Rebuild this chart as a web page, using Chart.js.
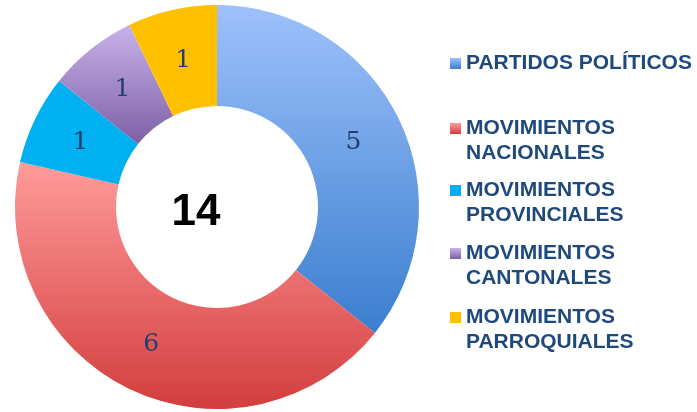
<!DOCTYPE html>
<html>
<head>
<meta charset="utf-8">
<script src="https://cdn.jsdelivr.net/npm/chart.js@4.4.0/dist/chart.umd.min.js"></script>
<style>
    html, body { margin: 0; padding: 0; background: #ffffff; }
    #wrap { position: relative; width: 697px; height: 412px; }
    #chart { position: absolute; left: 0; top: 0; }
    #legend {
        position: absolute; left: 450px; top: 0; width: 247px;
        font-family: "Liberation Sans", Arial, sans-serif; font-weight: bold;
        font-size: 21px; line-height: 25px; color: #1F497D;
    }
    .item { position: absolute; left: 0; display: flex; align-items: flex-start; }
    .box { width: 11px; height: 11px; margin-top: 9px; margin-right: 5px; flex: none; }
</style>
</head>
<body>
<div id="wrap">
    <canvas id="chart" width="697" height="412"></canvas>
    <div id="legend"></div>
</div>
<script>
// Data
const categories = ['PARTIDOS POLÍTICOS', 'MOVIMIENTOS NACIONALES', 'MOVIMIENTOS PROVINCIALES', 'MOVIMIENTOS CANTONALES', 'MOVIMIENTOS PARROQUIALES'];
const legendLines = [['PARTIDOS POLÍTICOS'], ['MOVIMIENTOS', 'NACIONALES'], ['MOVIMIENTOS', 'PROVINCIALES'], ['MOVIMIENTOS', 'CANTONALES'], ['MOVIMIENTOS', 'PARROQUIALES']];
const counts = [5, 6, 1, 1, 1];
const totalLabel = '14';

// Slice colors: [top, bottom] of the vertical gradient
const sliceColors = [
    ['#9DC1FB', '#3B7ECF'],
    ['#FF9B9B', '#D33D3D'],
    ['#00B0F0', '#00B0F0'],
    ['#C8B2EA', '#7D5FA6'],
    ['#FFC000', '#FFC000']
];

const cutoutPct = 50;

// Vertical extent of one doughnut slice, so each slice gets its own gradient
function sliceBounds(chart, index) {
    const area = chart.chartArea;
    const cx = (area.left + area.right) / 2;
    const cy = (area.top + area.bottom) / 2;
    const R = Math.min(area.right - area.left, area.bottom - area.top) / 2;
    const r = R * cutoutPct / 100;
    const total = counts.reduce((a, b) => a + b, 0);
    let before = 0;
    for (let i = 0; i < index; i++) before += counts[i];
    const start = -Math.PI / 2 + 2 * Math.PI * before / total;
    const end = start + 2 * Math.PI * counts[index] / total;
    let minY = Infinity, maxY = -Infinity;
    for (let k = 0; k <= 60; k++) {
        const a = start + (end - start) * k / 60;
        [R, r].forEach(rad => {
            const y = cy + Math.sin(a) * rad;
            minY = Math.min(minY, y);
            maxY = Math.max(maxY, y);
        });
    }
    return [minY, maxY];
}

function sliceFill(context) {
    const chart = context.chart;
    const i = context.dataIndex;
    if (!chart.chartArea || i === undefined) return sliceColors[i || 0][0];
    const [y0, y1] = sliceBounds(chart, i);
    const g = chart.ctx.createLinearGradient(0, y0, 0, y1);
    g.addColorStop(0, sliceColors[i][0]);
    g.addColorStop(1, sliceColors[i][1]);
    return g;
}

// Values inside the slices and the total in the hole
const labelPlugin = {
    id: 'sliceLabels',
    afterDatasetsDraw(chart) {
        const ctx = chart.ctx;
        const meta = chart.getDatasetMeta(0);
        ctx.save();
        ctx.textAlign = 'center';
        ctx.textBaseline = 'middle';
        ctx.fillStyle = '#223F6E';
        ctx.font = '25px "DejaVu Serif", "Liberation Serif", serif';
        meta.data.forEach((arc, i) => {
            const pos = arc.tooltipPosition();
            ctx.fillText(String(counts[i]), pos.x, pos.y + 1);
        });
        const cx = (chart.chartArea.left + chart.chartArea.right) / 2;
        const cy = (chart.chartArea.top + chart.chartArea.bottom) / 2;
        ctx.fillStyle = '#000000';
        ctx.font = 'bold 44px "Liberation Sans", Arial, sans-serif';
        ctx.fillText(totalLabel, cx - 21, cy + 6);
        ctx.restore();
    }
};

const ctx = document.getElementById('chart').getContext('2d');
new Chart(ctx, {
    type: 'doughnut',
    data: {
        labels: categories,
        datasets: [{
            data: counts,
            backgroundColor: sliceFill,
            borderWidth: 0
        }]
    },
    options: {
        responsive: false,
        animation: false,
        cutout: cutoutPct + '%',
        layout: {
            padding: { left: 15, right: 278, top: 5, bottom: 3 }
        },
        plugins: {
            legend: { display: false },
            tooltip: { enabled: false }
        }
    },
    plugins: [labelPlugin]
});

// HTML legend built from the category list
const legendTops = [49, 114, 176, 239, 303];
const legend = document.getElementById('legend');
legendLines.forEach((lines, i) => {
    const item = document.createElement('div');
    item.className = 'item';
    item.style.top = legendTops[i] + 'px';
    const box = document.createElement('div');
    box.className = 'box';
    box.style.background = 'linear-gradient(' + sliceColors[i][0] + ', ' + sliceColors[i][1] + ')';
    const text = document.createElement('div');
    text.innerHTML = lines.join('<br>');
    item.appendChild(box);
    item.appendChild(text);
    legend.appendChild(item);
});
</script>
</body>
</html>
